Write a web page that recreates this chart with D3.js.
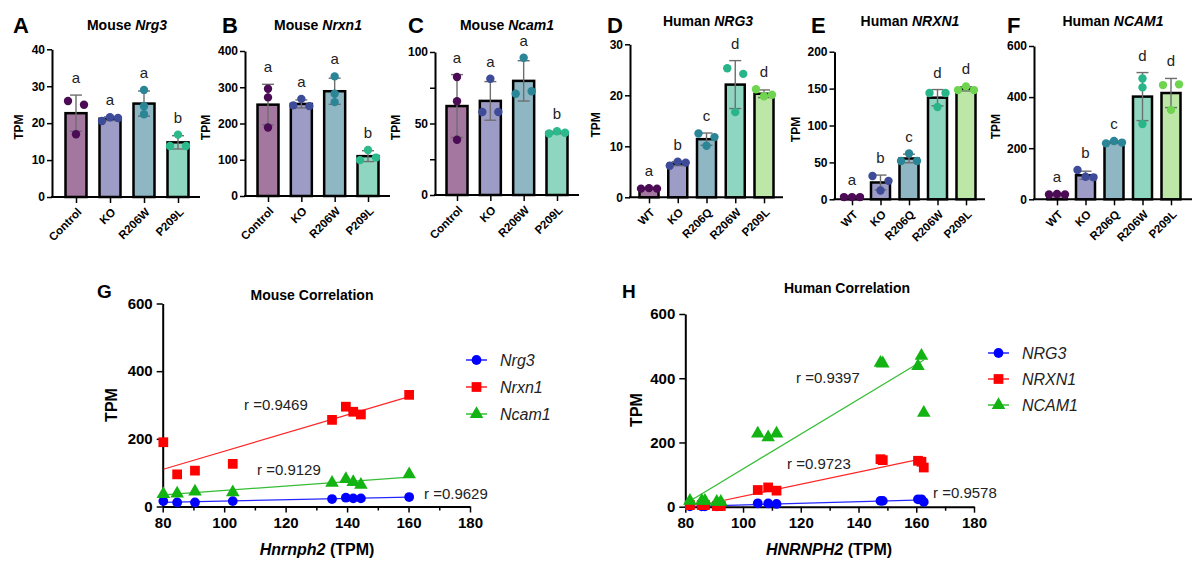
<!DOCTYPE html>
<html><head><meta charset="utf-8">
<script src="https://cdn.jsdelivr.net/npm/d3@7"></script>
<style>
body{margin:0;background:#fff}
svg{display:block}
text{font-family:"Liberation Sans",Arial,Helvetica,sans-serif}
</style>
</head><body>
<svg id="c" width="1200" height="576"></svg>
<script>
// ---------------- DATA ----------------
const mouseGroups = ["Control", "KO", "R206W", "P209L"];
const humanGroups = ["WT", "KO", "R206Q", "R206W", "P209L"];

const mNrg3Pts  = [[26, 17, 25], [20.6, 21.6, 21.4], [29, 24.6, 22.4], [13.8, 16.9, 13.8]];
const mNrg3Mean = [22.7, 21.2, 25.3, 14.8];
const mNrg3SD   = [4.9, 0.5, 3.4, 1.8];
const mNrg3Sig  = ["a", "a", "a", "b"];
const mNrg3Ticks = [0, 10, 20, 30, 40];

const mNrxn1Pts  = [[296, 272, 189], [250, 268, 248], [330, 282, 259], [99, 127, 106]];
const mNrxn1Mean = [252, 254, 289, 110];
const mNrxn1SD   = [56, 11, 36, 15];
const mNrxn1Sig  = ["a", "a", "a", "b"];
const mNrxn1Ticks = [0, 100, 200, 300, 400];

const mNcam1Pts  = [[82.5, 65.6, 38.6], [58, 81.3, 58], [70.8, 96, 72.6], [43, 44.6, 43.5]];
const mNcam1Mean = [62.2, 65.8, 79.8, 43.7];
const mNcam1SD   = [22, 13.5, 14.1, 0.8];
const mNcam1Sig  = ["a", "a", "a", "b"];
const mNcam1Ticks = [0, 50, 100];
const mNcam1Minor = [25, 75];

const hNrg3Pts  = [[1.7, 1.8, 1.7], [6.2, 7.0, 6.8], [12.5, 10.1, 11.8], [25.3, 16.7, 24.2], [21.2, 19.8, 20.1]];
const hNrg3Mean = [1.7, 6.6, 11.4, 22.1, 20.3];
const hNrg3SD   = [0.1, 0.4, 1.2, 4.7, 0.75];
const hNrg3Sig  = ["a", "b", "c", "d", "d"];
const hNrg3Ticks = [0, 10, 20, 30];

const hNrxn1Pts  = [[3, 3, 3], [31.5, 12, 25], [52, 62, 52], [144, 125, 144], [148, 153, 148]];
const hNrxn1Mean = [3, 22.8, 55.3, 137.7, 149.7];
const hNrxn1SD   = [0.3, 10, 5.8, 11, 2.9];
const hNrxn1Sig  = ["a", "b", "c", "d", "d"];
const hNrxn1Ticks = [0, 50, 100, 150, 200];

const hNcam1Pts  = [[19, 21, 19], [115, 88, 86], [219, 228, 222], [473, 438, 295], [447, 350, 450]];
const hNcam1Mean = [20, 94, 223, 402, 416];
const hNcam1SD   = [2, 16, 4.6, 94, 57];
const hNcam1Sig  = ["a", "b", "c", "d", "d"];
const hNcam1Ticks = [0, 200, 400, 600];

// correlation data
const mouseHnrnph2 = [80.2, 84.7, 90.5, 102.8, 135.1, 139.6, 142.0, 144.5, 160.2];
const mouseNrg3    = [16, 12, 12, 16, 22, 26, 24, 24, 28];
const mouseNrxn1   = [190, 95, 106, 126, 256, 295, 280, 272, 330];
const mouseNcam1   = [37, 38, 44, 42, 70, 81, 72, 64, 95];
const mouseR       = ["0.9629", "0.9469", "0.9129"];
const mouseGenes   = ["Nrg3", "Nrxn1", "Ncam1"];

const humanHNRNPH2 = [81.6, 85.7, 86.8, 90.9, 92.3, 105.1, 108.7, 111.6, 147.6, 148.4, 160.6, 161.8, 162.6];
const humanNRG3    = [1, 1, 1, 1, 2, 10.5, 10, 8.5, 18, 18, 23, 23, 15];
const humanNRXN1   = [5, 5, 5, 2, 2, 52, 60, 50, 148, 145, 143, 140, 122];
const humanNCAM1   = [18, 18, 18, 15, 15, 228, 216, 228, 448, 446, 438, 470, 292];
const humanR       = ["0.9578", "0.9723", "0.9397"];
const humanGenes   = ["NRG3", "NRXN1", "NCAM1"];

const corrXTicks = [80, 100, 120, 140, 160, 180];
const corrXMinor = [90, 110, 130, 150, 170];
const corrYTicks = [0, 200, 400, 600];

// ---------------- STYLE ----------------
const mouseFill = ["#a3779f", "#9d9cc7", "#8fb7c3", "#8fd6c0"];
const mouseDot  = ["#4b0c55", "#3d4b98", "#2a8697", "#2cb98b"];
const humanFill = ["#a3779f", "#9d9cc7", "#8fb7c3", "#8fd6c0", "#bce7a6"];
const humanDot  = ["#4b0c55", "#3d4b98", "#2a8697", "#29b58a", "#6fd44f"];
const serColors = ["#0000ff", "#ff0000", "#12b312"];

const svg = d3.select("#c");

function styleAxis(sel) {
  sel.select(".domain").attr("stroke", "#000").attr("stroke-width", 2);
  sel.selectAll(".tick line").attr("stroke", "#000").attr("stroke-width", 1.5);
  sel.selectAll(".tick text").attr("fill", "#000").attr("font-weight", "bold");
}

function barPanel(cfg) {
  const g = svg.append("g");
  const y = d3.scaleLinear().domain([0, cfg.max]).range([cfg.y0, cfg.yTop]);
  const x = d3.scalePoint().domain(cfg.groups).range(cfg.xr);
  const bw = cfg.bw;

  // y axis
  const ya = g.append("g").attr("transform", `translate(${cfg.ax},0)`)
    .call(d3.axisLeft(y).tickValues(cfg.ticks).tickSize(5).tickSizeOuter(0).tickPadding(2).tickFormat(d3.format("d")));
  styleAxis(ya);
  ya.selectAll(".tick text").attr("font-size", 12);
  if (cfg.minor) {
    const ym = g.append("g").attr("transform", `translate(${cfg.ax},0)`)
      .call(d3.axisLeft(y).tickValues(cfg.minor).tickSize(5).tickFormat(""));
    ym.select(".domain").remove();
    ym.selectAll(".tick line").attr("stroke", "#000").attr("stroke-width", 1.5);
  }
  // x axis line
  g.append("line").attr("x1", cfg.ax - 1).attr("x2", cfg.endX).attr("y1", cfg.y0).attr("y2", cfg.y0)
    .attr("stroke", "#000").attr("stroke-width", 2);
  const xa = g.append("g").attr("transform", `translate(0,${cfg.y0})`)
    .call(d3.axisBottom(x).tickSize(6).tickSizeOuter(0));
  xa.select(".domain").remove();
  styleAxis(xa);
  xa.selectAll(".tick text").attr("font-size", 11.5).attr("text-anchor", "end")
    .attr("x", 0).attr("y", 0).attr("dy", "0.35em")
    .attr("transform", "translate(3,13) rotate(-45)");

  // bars
  g.selectAll("rect.bar").data(cfg.groups).join("rect").attr("class", "bar")
    .attr("x", d => x(d) - bw / 2)
    .attr("y", (d, i) => y(cfg.mean[i]))
    .attr("width", bw)
    .attr("height", (d, i) => y(0) - y(cfg.mean[i]))
    .attr("fill", (d, i) => cfg.fill[i])
    .attr("stroke", "#000").attr("stroke-width", 2.5);

  // error bars
  cfg.groups.forEach((grp, i) => {
    const cx = x(grp), lo = y(Math.max(0, cfg.mean[i] - cfg.sd[i])), hi = y(cfg.mean[i] + cfg.sd[i]);
    const eg = g.append("g").attr("stroke", "#6e6e6e").attr("stroke-width", 1.4);
    eg.append("line").attr("x1", cx).attr("x2", cx).attr("y1", lo).attr("y2", hi);
    eg.append("line").attr("x1", cx - 6).attr("x2", cx + 6).attr("y1", lo).attr("y2", lo);
    eg.append("line").attr("x1", cx - 6).attr("x2", cx + 6).attr("y1", hi).attr("y2", hi);
  });

  // points with simple overlap spreading
  cfg.groups.forEach((grp, i) => {
    const vals = cfg.pts[i];
    const py = vals.map(v => y(v));
    let overlap = false;
    for (let a = 0; a < py.length; a++) for (let b = a + 1; b < py.length; b++)
      if (Math.abs(py[a] - py[b]) < 7) overlap = true;
    vals.forEach((v, k) => {
      const off = overlap ? (k - (vals.length - 1) / 2) * 8 : 0;
      g.append("circle").attr("cx", x(grp) + off).attr("cy", y(v)).attr("r", 4.2)
        .attr("fill", cfg.dot[i]);
    });
    const top = Math.max(cfg.mean[i] + cfg.sd[i], d3.max(vals));
    g.append("text").attr("x", x(grp)).attr("y", y(top) - 12)
      .attr("text-anchor", "middle").attr("font-size", 15).attr("fill", "#222")
      .text(cfg.sig[i]);
  });

  // y label
  g.append("text").attr("transform", `translate(${cfg.ylabX},${(cfg.y0 + cfg.yTop) / 2 + 4}) rotate(-90)`)
    .attr("text-anchor", "middle").attr("font-size", 12).attr("font-weight", "bold").text("TPM");
  // title
  const t = g.append("text").attr("x", cfg.titleX).attr("y", cfg.titleY).attr("text-anchor", "middle")
    .attr("font-size", 14).attr("font-weight", "bold");
  t.append("tspan").text(cfg.species + " ");
  t.append("tspan").attr("font-style", "italic").text(cfg.gene);
  // panel letter
  g.append("text").attr("x", cfg.letterX).attr("y", 33).attr("font-size", 22).attr("font-weight", "bold")
    .text(cfg.letter);
}

barPanel({letter: "A", letterX: 13, species: "Mouse", gene: "Nrg3", titleX: 127, titleY: 30,
  groups: mouseGroups, pts: mNrg3Pts, mean: mNrg3Mean, sd: mNrg3SD, sig: mNrg3Sig, ticks: mNrg3Ticks,
  max: 40, ax: 52, endX: 200, y0: 197, yTop: 49.3, xr: [76, 178], bw: 21, ylabX: 23,
  fill: mouseFill, dot: mouseDot});
barPanel({letter: "B", letterX: 222, species: "Mouse", gene: "Nrxn1", titleX: 318, titleY: 30,
  groups: mouseGroups, pts: mNrxn1Pts, mean: mNrxn1Mean, sd: mNrxn1SD, sig: mNrxn1Sig, ticks: mNrxn1Ticks,
  max: 400, ax: 245, endX: 390, y0: 196, yTop: 51, xr: [268, 368], bw: 21, ylabX: 210,
  fill: mouseFill, dot: mouseDot});
barPanel({letter: "C", letterX: 408, species: "Mouse", gene: "Ncam1", titleX: 507, titleY: 30,
  groups: mouseGroups, pts: mNcam1Pts, mean: mNcam1Mean, sd: mNcam1SD, sig: mNcam1Sig, ticks: mNcam1Ticks, minor: mNcam1Minor,
  max: 100, ax: 435, endX: 579, y0: 195, yTop: 52, xr: [457, 557], bw: 21, ylabX: 400,
  fill: mouseFill, dot: mouseDot});
barPanel({letter: "D", letterX: 607, species: "Human", gene: "NRG3", titleX: 708, titleY: 26,
  groups: humanGroups, pts: hNrg3Pts, mean: hNrg3Mean, sd: hNrg3SD, sig: hNrg3Sig, ticks: hNrg3Ticks,
  max: 30, ax: 630, endX: 783, y0: 197.3, yTop: 44.3, xr: [649, 764], bw: 19, ylabX: 600,
  fill: humanFill, dot: humanDot});
barPanel({letter: "E", letterX: 811, species: "Human", gene: "NRXN1", titleX: 910, titleY: 26,
  groups: humanGroups, pts: hNrxn1Pts, mean: hNrxn1Mean, sd: hNrxn1SD, sig: hNrxn1Sig, ticks: hNrxn1Ticks,
  max: 200, ax: 834.5, endX: 985, y0: 199.3, yTop: 51.7, xr: [852, 966], bw: 19, ylabX: 800,
  fill: humanFill, dot: humanDot});
barPanel({letter: "F", letterX: 1007, species: "Human", gene: "NCAM1", titleX: 1113, titleY: 26,
  groups: humanGroups, pts: hNcam1Pts, mean: hNcam1Mean, sd: hNcam1SD, sig: hNcam1Sig, ticks: hNcam1Ticks,
  max: 600, ax: 1034, endX: 1192, y0: 199.3, yTop: 46, xr: [1057, 1171], bw: 19, ylabX: 1000,
  fill: humanFill, dot: humanDot});

// ---------------- correlation panels ----------------
const symTypes = [d3.symbolCircle, d3.symbolSquare, d3.symbolTriangle];
const symSizes = [75, 95, 80];

function linFit(xs, ys) {
  const mx = d3.mean(xs), my = d3.mean(ys);
  let sxy = 0, sxx = 0;
  xs.forEach((v, i) => { sxy += (v - mx) * (ys[i] - my); sxx += (v - mx) * (v - mx); });
  const b = sxy / sxx;
  return {b, a: my - b * mx};
}

function corrPanel(cfg) {
  const g = svg.append("g");
  const x = d3.scaleLinear().domain([80, 180]).range(cfg.xr);
  const y = d3.scaleLinear().domain([0, 600]).range(cfg.yr);

  const xa = g.append("g").attr("transform", `translate(0,${cfg.yr[0]})`)
    .call(d3.axisBottom(x).tickValues(corrXTicks).tickSize(6).tickSizeOuter(0).tickPadding(5));
  styleAxis(xa);
  xa.selectAll(".tick text").attr("font-size", 15);
  const xm = g.append("g").attr("transform", `translate(0,${cfg.yr[0]})`)
    .call(d3.axisBottom(x).tickValues(corrXMinor).tickSize(4).tickFormat(""));
  xm.select(".domain").remove();
  xm.selectAll(".tick line").attr("stroke", "#000").attr("stroke-width", 1.5);

  const ya = g.append("g").attr("transform", `translate(${cfg.xr[0]},0)`)
    .call(d3.axisLeft(y).tickValues(corrYTicks).tickSize(6).tickSizeOuter(0).tickPadding(4));
  styleAxis(ya);
  ya.selectAll(".tick text").attr("font-size", 15);

  cfg.series.forEach((ys, s) => {
    const fit = linFit(cfg.xs, ys);
    const x0 = d3.min(cfg.xs), x1 = d3.max(cfg.xs);
    g.append("line").attr("x1", x(x0)).attr("y1", y(fit.a + fit.b * x0))
      .attr("x2", x(x1)).attr("y2", y(fit.a + fit.b * x1))
      .attr("stroke", serColors[s]).attr("stroke-width", 1.2).attr("opacity", 0.85);
  });
  cfg.series.forEach((ys, s) => {
    const sym = d3.symbol().type(symTypes[s]).size(symSizes[s]);
    g.selectAll(null).data(ys).join("path")
      .attr("d", sym)
      .attr("transform", (d, i) => `translate(${x(cfg.xs[i])},${y(d)})`)
      .attr("fill", serColors[s]);
  });

  // r labels
  cfg.rPos.forEach((p, s) => {
    g.append("text").attr("x", p[0]).attr("y", p[1]).attr("font-size", 15).attr("fill", "#222")
      .text("r =" + cfg.r[s]);
  });

  // legend
  cfg.genes.forEach((gn, s) => {
    const ly = cfg.legY + s * cfg.legStep;
    g.append("line").attr("x1", cfg.legX).attr("x2", cfg.legX + 21).attr("y1", ly).attr("y2", ly)
      .attr("stroke", serColors[s]).attr("stroke-width", 1.3);
    g.append("path").attr("d", d3.symbol().type(symTypes[s]).size(symSizes[s])())
      .attr("transform", `translate(${cfg.legX + 10.5},${ly})`).attr("fill", serColors[s]);
    g.append("text").attr("x", cfg.legX + 34).attr("y", ly + 6).attr("font-size", 16)
      .attr("font-style", "italic").attr("fill", "#222").text(gn);
  });

  // titles and labels
  g.append("text").attr("x", cfg.titleX).attr("y", cfg.titleY).attr("text-anchor", "middle")
    .attr("font-size", 14).attr("font-weight", "bold").text(cfg.title);
  g.append("text").attr("x", cfg.letterX).attr("y", 298).attr("font-size", 19).attr("font-weight", "bold")
    .text(cfg.letter);
  g.append("text").attr("transform", `translate(${cfg.ylabX},${cfg.ylabY}) rotate(-90)`)
    .attr("text-anchor", "middle").attr("font-size", 16).attr("font-weight", "bold").text("TPM");
  const xl = g.append("text").attr("x", cfg.xlabX).attr("y", 555).attr("text-anchor", "middle")
    .attr("font-size", 16).attr("font-weight", "bold");
  xl.append("tspan").attr("font-style", "italic").text(cfg.xgene);
  xl.append("tspan").text(" (TPM)");
}

corrPanel({letter: "G", letterX: 97, title: "Mouse Correlation", titleX: 312, titleY: 300,
  xs: mouseHnrnph2, series: [mouseNrg3, mouseNrxn1, mouseNcam1], genes: mouseGenes, r: mouseR,
  xr: [162.7, 470], yr: [506.5, 303.5],
  rPos: [[424, 499], [244, 410], [257, 475]],
  legX: 466, legY: 360, legStep: 27,
  ylabX: 117, ylabY: 405, xlabX: 317, xgene: "Hnrnph2"});
corrPanel({letter: "H", letterX: 622, title: "Human Correlation", titleX: 847, titleY: 293,
  xs: humanHNRNPH2, series: [humanNRG3, humanNRXN1, humanNCAM1], genes: humanGenes, r: humanR,
  xr: [685.3, 974], yr: [506.7, 314],
  rPos: [[933, 498], [787, 469], [796, 383]],
  legX: 988, legY: 353, legStep: 26,
  ylabX: 642, ylabY: 410, xlabX: 829, xgene: "HNRNPH2"});
</script>
</body></html>
